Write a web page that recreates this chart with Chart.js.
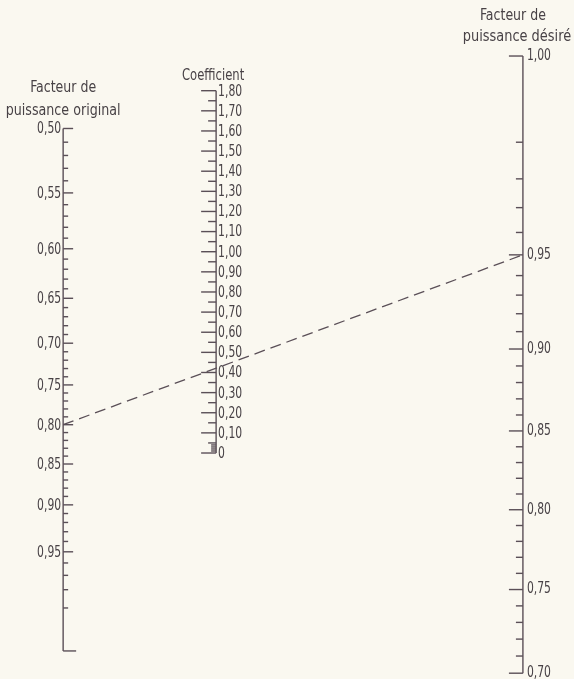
<!DOCTYPE html>
<html>
<head>
<meta charset="utf-8">
<script src="https://cdn.jsdelivr.net/npm/chart.js"></script>
<style>
    html, body { margin: 0; padding: 0; background: #faf8f0; }
    #wrap { width: 574px; height: 679px; position: relative; }
</style>
</head>
<body>
<div id="wrap"><canvas id="nomogram"></canvas></div>
<script>
// Facteur de puissance original (left axis)
const originalPfLabels = [0.50, 0.55, 0.60, 0.65, 0.70, 0.75, 0.80, 0.85, 0.90, 0.95];
const originalPfRange = [0.50, 1.00];

// Coefficient (middle axis)
const coefficientLabels = [0, 0.10, 0.20, 0.30, 0.40, 0.50, 0.60, 0.70, 0.80, 0.90,
    1.00, 1.10, 1.20, 1.30, 1.40, 1.50, 1.60, 1.70, 1.80];
const coefficientHalfTicks = [0.05, 0.15, 0.25, 0.35, 0.45, 0.55, 0.65, 0.75, 0.85,
    0.95, 1.05, 1.15, 1.25, 1.35, 1.45, 1.55, 1.65, 1.75];
const coefficientFineTicks = [0.01, 0.02, 0.03, 0.04];

// Facteur de puissance désiré (right axis)
const desiredPfLabels = [1.00, 0.95, 0.90, 0.85, 0.80, 0.75, 0.70];
const desiredPfRange = [0.70, 1.00];

// worked example drawn as the dashed line
const exampleOriginalPf = 0.80;
const exampleDesiredPf = 0.95;

const TEXT = '#484246';
const LINE = '#5a4f57';
const FONT = '15px "DejaVu Sans Condensed", "DejaVu Sans", sans-serif';

// tan(phi) from a power factor
const tanPhi = pf => Math.sqrt(1 - pf * pf) / pf;
const fmt = v => v === 0 ? '0' : v.toFixed(2).replace('.', ',');

function pfSteps(from, to) {
    const out = [];
    for (let i = Math.round(from * 100); i <= Math.round(to * 100); i++) out.push(i / 100);
    return out;
}

// scale ranges (in tan phi units), fitted to the printed nomogram
const leftRange = { min: -0.093, max: 2.158 };
const rightRange = { min: -0.0926, max: 1.0298 };
const axisX = { original: 0.110, desired: 0.911 };

// the middle scale follows from the two outer ones: k = tanL - tanR
const spanL = leftRange.max - leftRange.min;
const spanR = rightRange.max - rightRange.min;
const t = spanR / (spanL + spanR);
axisX.coefficient = axisX.original + t * (axisX.desired - axisX.original);
const spanM = spanL / (1 - t);
const midMax = spanM * ((1 - t) * leftRange.max / spanL - t * rightRange.min / spanR);
const midRange = { min: midMax - spanM, max: midMax };

// narrow lettering, like the stencil font of the original
function narrowText(c, text, x, y, squeeze) {
    c.save();
    c.translate(x, y);
    c.scale(squeeze, 1);
    c.fillText(text, 0, 0);
    c.restore();
}

const nomogramAxes = {
    id: 'nomogramAxes',
    beforeDraw(chart) {
        const c = chart.ctx;
        c.save();
        c.fillStyle = '#faf8f0';
        c.fillRect(0, 0, chart.width, chart.height);
        c.restore();
    },
    afterDraw(chart) {
        const c = chart.ctx;
        const sx = chart.scales.x;
        const yL = chart.scales.yOriginal;
        const yM = chart.scales.yCoef;
        const yR = chart.scales.yDesired;
        const xL = sx.getPixelForValue(axisX.original);
        const xM = sx.getPixelForValue(axisX.coefficient);
        const xR = sx.getPixelForValue(axisX.desired);

        c.save();
        c.strokeStyle = LINE;
        c.fillStyle = TEXT;
        c.lineWidth = 1.4;
        c.font = FONT;
        c.textBaseline = 'middle';

        const seg = (x1, y1, x2, y2) => {
            c.beginPath();
            c.moveTo(x1, y1);
            c.lineTo(x2, y2);
            c.stroke();
        };

        // left axis
        const lTop = yL.getPixelForValue(tanPhi(originalPfRange[0]));
        const lBot = yL.getPixelForValue(tanPhi(originalPfRange[1]));
        seg(xL, lTop, xL, lBot);
        pfSteps(originalPfRange[0], originalPfRange[1]).forEach(pf => {
            const y = yL.getPixelForValue(tanPhi(pf));
            const major = originalPfLabels.some(v => Math.abs(v - pf) < 1e-6);
            const len = pf === originalPfRange[1] ? 13 : (major ? 10 : 5);
            seg(xL, y, xL + len, y);
        });
        c.textAlign = 'right';
        originalPfLabels.forEach(pf => {
            narrowText(c, fmt(pf), xL - 2, yL.getPixelForValue(tanPhi(pf)) + 1, 0.8);
        });
        c.textAlign = 'center';
        narrowText(c, 'Facteur de', xL, lTop - 40, 0.93);
        narrowText(c, 'puissance original', xL, lTop - 17, 0.94);

        // middle axis
        const mTop = yM.getPixelForValue(coefficientLabels[coefficientLabels.length - 1]);
        const mBot = yM.getPixelForValue(coefficientLabels[0]);
        seg(xM, mTop, xM, mBot);
        coefficientLabels.forEach(k => {
            const y = yM.getPixelForValue(k);
            seg(xM - 15, y, xM, y);
        });
        coefficientHalfTicks.forEach(k => {
            const y = yM.getPixelForValue(k);
            seg(xM - 8, y, xM, y);
        });
        coefficientFineTicks.forEach(k => {
            const y = yM.getPixelForValue(k);
            seg(xM - 5, y, xM, y);
        });
        c.textAlign = 'left';
        coefficientLabels.forEach(k => {
            narrowText(c, fmt(k), xM + 2, yM.getPixelForValue(k) + 1, 0.8);
        });
        c.textAlign = 'center';
        narrowText(c, 'Coefficient', xM - 3, mTop - 15, 0.86);

        // right axis
        const rTop = yR.getPixelForValue(tanPhi(desiredPfRange[1]));
        const rBot = yR.getPixelForValue(tanPhi(desiredPfRange[0]));
        seg(xR, rTop, xR, rBot);
        pfSteps(desiredPfRange[0], desiredPfRange[1]).forEach(pf => {
            const y = yR.getPixelForValue(tanPhi(pf));
            const major = desiredPfLabels.some(v => Math.abs(v - pf) < 1e-6);
            seg(xR - (major ? 14 : 7), y, xR, y);
        });
        c.textAlign = 'left';
        desiredPfLabels.forEach(pf => {
            narrowText(c, fmt(pf), xR + 4, yR.getPixelForValue(tanPhi(pf)), 0.8);
        });
        c.textAlign = 'center';
        narrowText(c, 'Facteur de', xR - 10, rTop - 40, 0.93);
        narrowText(c, 'puissance désiré', xR - 6, rTop - 19, 0.96);

        // example: dashed alignment line
        c.setLineDash([11, 6]);
        c.lineWidth = 1.3;
        seg(xL, yL.getPixelForValue(tanPhi(exampleOriginalPf)),
            xR, yR.getPixelForValue(tanPhi(exampleDesiredPf)));
        c.restore();
    }
};

new Chart(document.getElementById('nomogram'), {
    type: 'scatter',
    data: { datasets: [] },
    options: {
        responsive: true,
        maintainAspectRatio: false,
        animation: false,
        layout: { padding: 0 },
        plugins: {
            legend: { display: false },
            tooltip: { enabled: false }
        },
        scales: {
            x: { type: 'linear', display: false, min: 0, max: 1 },
            yOriginal: { type: 'linear', axis: 'y', display: false, min: leftRange.min, max: leftRange.max },
            yCoef: { type: 'linear', axis: 'y', display: false, min: midRange.min, max: midRange.max },
            yDesired: { type: 'linear', axis: 'y', display: false, reverse: true, min: rightRange.min, max: rightRange.max }
        }
    },
    plugins: [nomogramAxes]
});
</script>
</body>
</html>
